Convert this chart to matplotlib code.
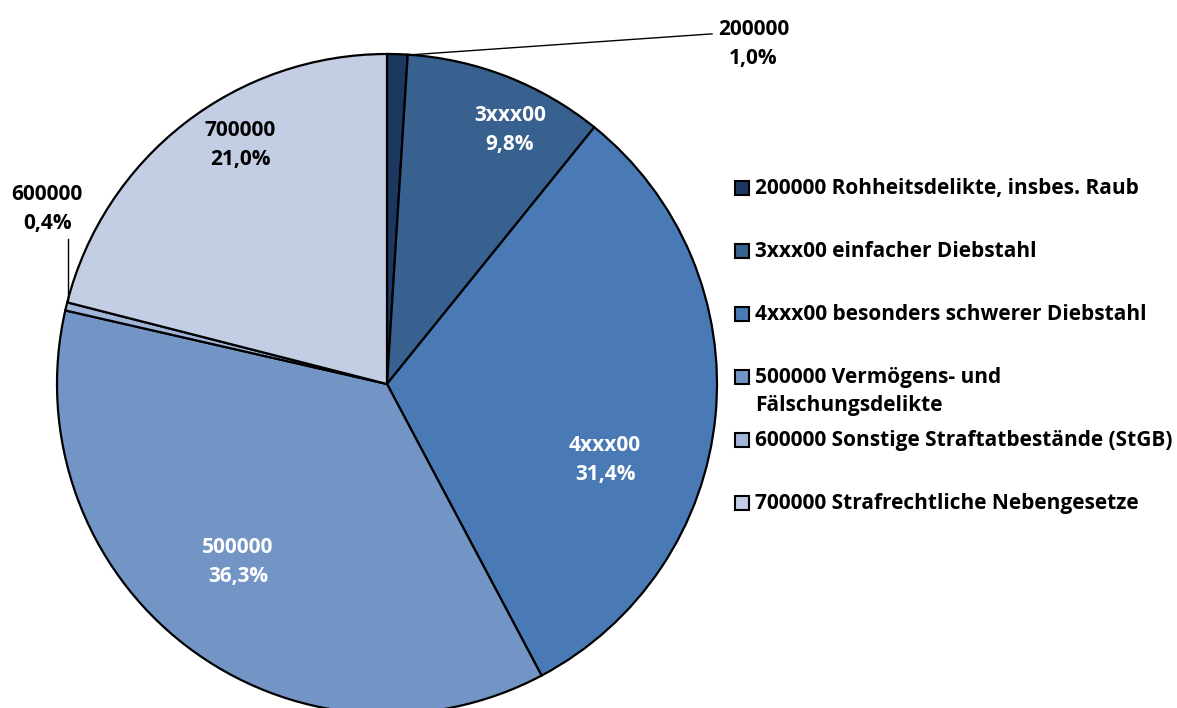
import matplotlib.pyplot as plt
from matplotlib.patches import Rectangle

# Anteile der Deliktgruppen (Prozent)
codes = ['200000', '3xxx00', '4xxx00', '500000', '600000', '700000']
shares = [1.0, 9.8, 31.4, 36.3, 0.4, 21.0]
legend_labels = [
    '200000 Rohheitsdelikte, insbes. Raub',
    '3xxx00 einfacher Diebstahl',
    '4xxx00 besonders schwerer Diebstahl',
    '500000 Vermögens- und\nFälschungsdelikte',
    '600000 Sonstige Straftatbestände (StGB)',
    '700000 Strafrechtliche Nebengesetze',
]
colors = ['#1c3760', '#38618f', '#4a7ab5', '#7395c6', '#a0b5d9', '#c3cde3']

# label placement in pie coordinates (radius 1)
label_pos = [(1.11, 1.03), (0.373, 0.77), (0.661, -0.23), (-0.452, -0.539),
             (-1.03, 0.53), (-0.445, 0.724)]
label_color = ['black', 'white', 'white', 'white', 'black', 'black']

plt.rcParams['font.family'] = ['Open Sans', 'DejaVu Sans']
FS = 15

W, H = 1177, 708
fig = plt.figure(figsize=(W / 100, H / 100), dpi=100)
cx, cy, r = 387, 384, 330
ax = fig.add_axes([(cx - r) / W, (H - cy - r) / H, 2 * r / W, 2 * r / H])

wedges, _ = ax.pie(shares, colors=colors, startangle=90, counterclock=False,
                   radius=1, wedgeprops=dict(edgecolor='black', linewidth=1.6))
ax.set_xlim(-1, 1)
ax.set_ylim(-1, 1)
ax.set_aspect('equal')
ax.axis('off')
for a in ax.patches:
    a.set_clip_on(False)

for code, val, pos, col in zip(codes, shares, label_pos, label_color):
    txt = f"{code}\n{val:.1f}%".replace('.', ',')
    ax.text(pos[0], pos[1], txt, ha='center', va='center', color=col,
            fontsize=FS, fontweight='bold', linespacing=1.5, clip_on=False)

# leader lines for the small slices
ax.plot([0.064, 0.985], [0.997, 1.061], color='black', lw=1, clip_on=False)
ax.plot([-0.967, -0.967], [0.25, 0.44], color='black', lw=1, clip_on=False)

# legend drawn by hand
for i, (lab, col) in enumerate(zip(legend_labels, colors)):
    yc = 188 + 63 * i
    fig.patches.append(Rectangle((735 / W, (H - yc - 7) / H), 14 / W, 14 / H,
                                 transform=fig.transFigure, facecolor=col,
                                 edgecolor='black', linewidth=1.5))
    fig.text(755 / W, (H - yc + 10) / H, lab, ha='left', va='top',
             fontsize=FS, fontweight='bold', linespacing=1.45)

fig.savefig('out.png', dpi=100)
